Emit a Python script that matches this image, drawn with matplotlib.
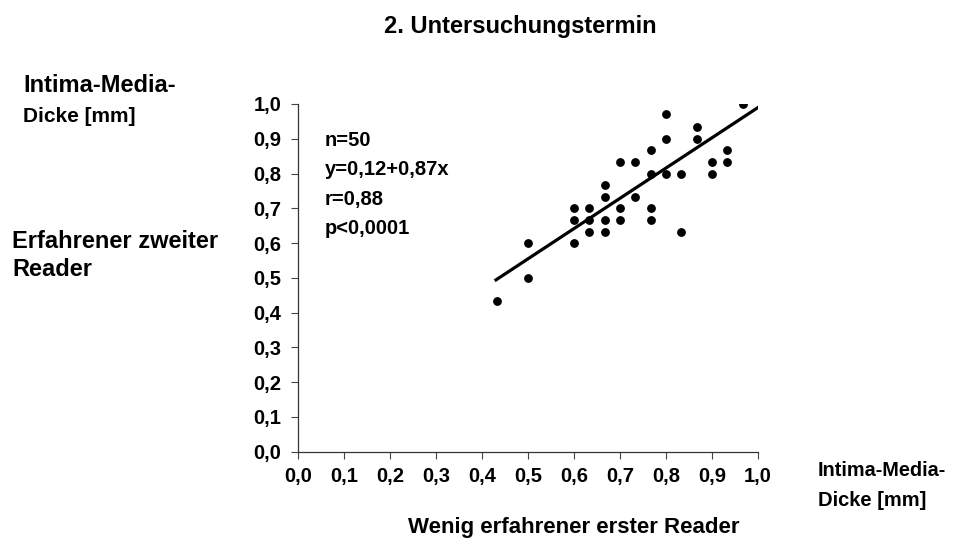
import matplotlib

matplotlib.use("Agg")
import matplotlib.pyplot as plt
import numpy as np

plt.rcParams["font.family"] = ["Liberation Sans", "DejaVu Sans"]
plt.rcParams["font.weight"] = "bold"

reader1 = [0.967, 0.80, 0.867, 0.867, 0.80, 0.767, 0.933, 0.70, 0.733, 0.90,
           0.933, 0.767, 0.80, 0.833, 0.90, 0.667, 0.667, 0.733, 0.60, 0.633,
           0.70, 0.767, 0.60, 0.633, 0.667, 0.70, 0.767, 0.633, 0.667, 0.833,
           0.50, 0.60, 0.50, 0.433]
reader2 = [1.00, 0.97, 0.933, 0.90, 0.90, 0.867, 0.867, 0.833, 0.833, 0.833,
           0.833, 0.80, 0.80, 0.80, 0.80, 0.767, 0.733, 0.733, 0.70, 0.70,
           0.70, 0.70, 0.667, 0.667, 0.667, 0.667, 0.667, 0.633, 0.633, 0.633,
           0.60, 0.60, 0.50, 0.433]

# Regressionsgerade y = 0,12 + 0,87x
achsenabschnitt = 0.12
steigung = 0.87
linie_x = [0.43, 1.0]

ticks = np.round(np.arange(0, 1.01, 0.1), 1)
tick_labels = [f"{t:.1f}".replace(".", ",") for t in ticks]
statistik = ["n=50", "y=0,12+0,87x", "r=0,88", "p<0,0001"]

fig = plt.figure(figsize=(9.56, 5.42), dpi=100)
ax = fig.add_axes([0.312, 0.1666, 0.481, 0.6416])

ax.plot(reader1, reader2, "o", color="black", ms=5.3, zorder=3)
lx = np.array(linie_x)
ax.plot(lx, achsenabschnitt + steigung * lx, color="black", lw=2.3, zorder=2)

ax.set_xlim(0, 1)
ax.set_ylim(0, 1)
ax.set_xticks(ticks)
ax.set_xticklabels(tick_labels)
ax.set_yticks(ticks)
ax.set_yticklabels(tick_labels)
ax.tick_params(labelsize=14.5, length=5, width=0.8, color="#444444")
ax.tick_params(axis="y", pad=7)
ax.tick_params(axis="x", pad=6)
for s in ("top", "right"):
    ax.spines[s].set_visible(False)
for s in ("left", "bottom"):
    ax.spines[s].set_linewidth(0.9)
    ax.spines[s].set_color("#333333")
for lab in ax.get_xticklabels() + ax.get_yticklabels():
    lab.set_fontweight("bold")

for i, txt in enumerate(statistik):
    fig.text(325 / 956, 1 - (140 + 29.5 * i) / 542, txt, fontsize=14.5,
             fontweight="bold", va="center", ha="left")

fig.text(520 / 956, 1 - 27 / 542, "2. Untersuchungstermin", fontsize=17,
         fontweight="bold", ha="center", va="center")
fig.text(23 / 956, 1 - 86 / 542, "Intima-Media-", fontsize=17,
         fontweight="bold", va="center")
fig.text(23 / 956, 1 - 116 / 542, "Dicke [mm]", fontsize=15,
         fontweight="bold", va="center")
fig.text(12 / 956, 1 - 242 / 542, "Erfahrener zweiter", fontsize=17,
         fontweight="bold", va="center")
fig.text(12 / 956, 1 - 270 / 542, "Reader", fontsize=17,
         fontweight="bold", va="center")
fig.text(818 / 956, 1 - 470 / 542, "Intima-Media-", fontsize=14.3,
         fontweight="bold", va="center")
fig.text(818 / 956, 1 - 500 / 542, "Dicke [mm]", fontsize=14.5,
         fontweight="bold", va="center")
fig.text(408 / 956, 1 - 527 / 542, "Wenig erfahrener erster Reader",
         fontsize=16, fontweight="bold", ha="left", va="center")

fig.savefig("out.png", dpi=100)
